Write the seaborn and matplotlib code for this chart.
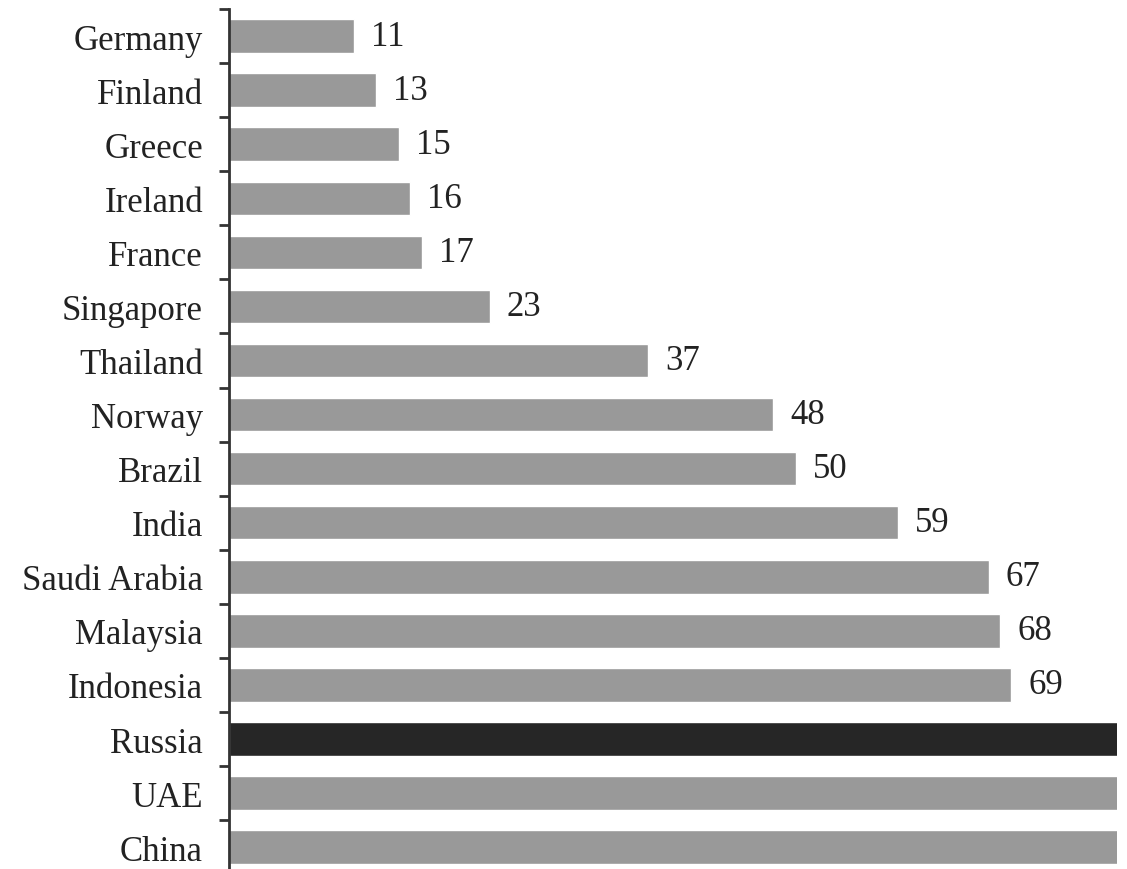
import matplotlib
matplotlib.use('Agg')
import matplotlib.pyplot as plt
import pandas as pd
import seaborn as sns
from matplotlib.ticker import FixedLocator

countries = ['Germany', 'Finland', 'Greece', 'Ireland', 'France', 'Singapore', 'Thailand',
             'Norway', 'Brazil', 'India', 'Saudi Arabia', 'Malaysia', 'Indonesia',
             'Russia', 'UAE', 'China']
values = [11, 13, 15, 16, 17, 23, 37, 48, 50, 59, 67, 68, 69, 85, 88, 92]
highlight = 'Russia'
x_max = 78.3  # the longest bars run off the right edge in the original

df = pd.DataFrame({'country': countries, 'value': values})
df['group'] = ['hi' if c == highlight else 'lo' for c in countries]

sns.set_style('white')
plt.rcParams['font.family'] = ['Liberation Serif', 'DejaVu Serif']

fig = plt.figure(figsize=(11.27, 8.7), dpi=100)
ax = fig.add_axes([0.203, -0.006, 0.788, 0.9945])
sns.barplot(data=df, y='country', x='value', hue='group', orient='h',
            palette={'lo': '#999999', 'hi': '#262626'}, dodge=False, width=0.62,
            legend=False, ax=ax)

ax.set_xlim(0, x_max)
ax.set_ylim(len(countries) - 0.5, -0.5)
for i, v in enumerate(values):
    if v < x_max:
        ax.text(v + 1.5, i, str(v), va='center', ha='left', fontsize=25, color='#222222')

ax.set_xlabel('')
ax.set_ylabel('')
ax.set_xticks([])
ax.yaxis.set_major_locator(FixedLocator(range(len(countries))))
ax.set_yticklabels(countries, fontsize=25, color='#222222')
ax.yaxis.set_minor_locator(FixedLocator([i - 0.5 for i in range(len(countries) + 1)]))
ax.tick_params(axis='y', which='major', length=0, pad=18.5)
ax.tick_params(axis='y', which='minor', left=True, length=7, width=2, color='#333333')
for s in ['top', 'right', 'bottom']:
    ax.spines[s].set_visible(False)
ax.spines['left'].set_color('#333333')
ax.spines['left'].set_linewidth(2)

fig.savefig('out.png', dpi=100)
